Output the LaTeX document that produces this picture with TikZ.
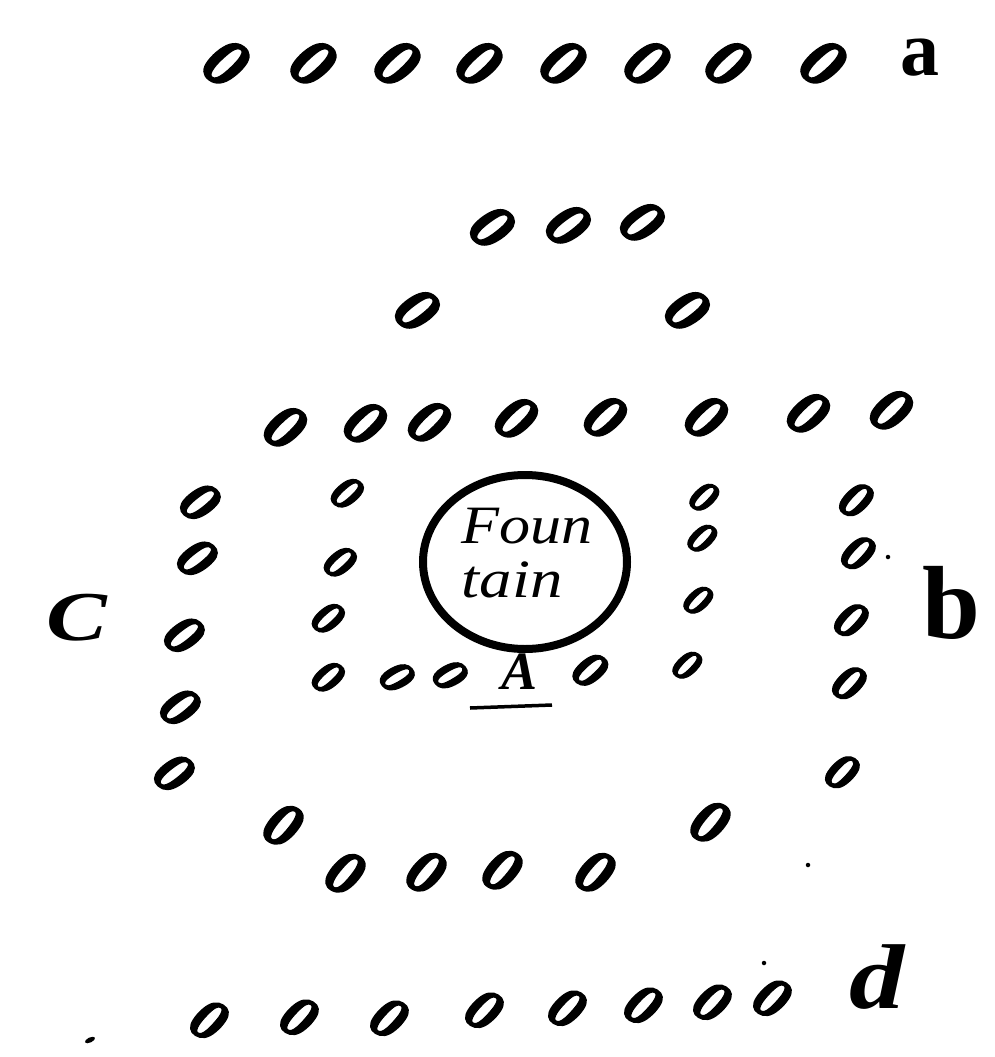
\documentclass[tikz,border=0pt]{standalone}
\usepackage{fontspec}
\setmainfont{Liberation Serif}
\newfontfamily\treefont{Liberation Serif}[BoldItalicFeatures={FakeBold=2.2}]
\usetikzlibrary{shapes.geometric}
\begin{document}
\begin{tikzpicture}[x=1pt,y=-1pt,
  tree/.style 2 args={font=\treefont\fontsize{#1}{#1}\selectfont\bfseries\itshape, inner sep=0pt, rotate=#2, xscale=1.02},
  lbl/.style={inner sep=0pt, font=\fontsize{#1}{#1}\selectfont\bfseries},
  dot/.style={fill=black, circle, inner sep=0pt, minimum size=4.5pt}]
\useasboundingbox[fill=white] (0,0) rectangle (994,1057);
% row a
\foreach \x/\y [count=\i] in {226/63,313/63,397/63,479/63,563/63,647/63,728/63,823/63}
  \node[tree={70}{-37}] (a\i) at (\x,\y) {0};
\node[lbl=78] (la) at (920,58) {a};
% row 2 and 3
\foreach \x/\y [count=\i] in {492/227,568/225,642/222}
  \node[tree={66}{-43}] (r2\i) at (\x,\y) {0};
\foreach \x/\y [count=\i] in {417/310,687/310}
  \node[tree={66}{-43}] (r3\i) at (\x,\y) {0};
% row 4
\foreach \x/\y [count=\i] in {285/427,365/423,429/422,516/418,605/417,706/417,808/413,891/410}
  \node[tree={66}{-36}] (r4\i) at (\x,\y) {0};
% outer left column
\foreach \x/\y [count=\i] in {200/502,197/558,184/635,180/707,174/773}
  \node[tree={60}{-42}] (ol\i) at (\x,\y) {0};
\node[inner sep=0pt, font=\fontsize{70}{70}\selectfont\bfseries\itshape, xscale=1.3] (lc) at (77,618) {C};
% inner left column
\foreach \x/\y [count=\i] in {347/493,340/562,328/618,328/677}
  \node[tree={50}{-38}] (il\i) at (\x,\y) {0};
% inner bottom row
\node[tree={50}{-50}] (ib1) at (397,677) {0};
\node[tree={50}{-50}] (ib2) at (450,675) {0};
\node[inner sep=0pt, font=\fontsize{54}{54}\selectfont\bfseries\itshape] (lA) at (520,672) {A};
\node[tree={54}{-38}] (ib3) at (590,670) {0};
\coordinate (u1) at (470,708);
\coordinate (u2) at (552,705);
\draw[line width=3.5pt] (u1) -- (u2);
% fountain
\node[draw, ellipse, line width=8pt, minimum width=204pt, minimum height=174pt] (fountain) at (525,562) {};
\node[inner sep=0pt, font=\fontsize{54}{54}\selectfont\itshape, xscale=1.15] (foun) at (527,526) {Foun};
\node[inner sep=0pt, font=\fontsize{54}{54}\selectfont\itshape, xscale=1.2] (tain) at (512,580) {tain};
% inner right column
\foreach \x/\y [count=\i] in {704/497,702/538,698/600,687/665}
  \node[tree={46}{-35}] (ir\i) at (\x,\y) {0};
% outer right column
\foreach \x/\y [count=\i] in {856/500,858/553,851/620,849/683,842/772}
  \node[tree={54}{-33}] (or\i) at (\x,\y) {0};
\node[dot] (d1) at (888,557) {};
\node[lbl=104] (lb) at (951,603) {b};
% bottom group
\node[tree={64}{-30}] (bg1) at (283,825) {0};
\node[tree={64}{-30}] (bg2) at (710,822) {0};
\foreach \x/\y [count=\i] in {345/873,426/872,502/870,595/872}
  \node[tree={64}{-30}] (bg\the\numexpr\i+2\relax) at (\x,\y) {0};
\node[dot] (d2) at (808,865) {};
\node[dot] (d3) at (764,963) {};
% row d
\foreach \x/\y [count=\i] in {209/1020,299/1017,389/1018,484/1010,567/1008,643/1005,712/1002,772/998}
  \node[tree={60}{-33}] (rd\i) at (\x,\y) {0};
\node[inner sep=0pt, font=\fontsize{92}{92}\selectfont\bfseries\itshape, xscale=1.2] (ld) at (877,977) {d};
\node[fill=black, ellipse, inner sep=0pt, minimum width=11pt, minimum height=5pt, rotate=25] (tick) at (90,1040) {};
\end{tikzpicture}
\end{document}
